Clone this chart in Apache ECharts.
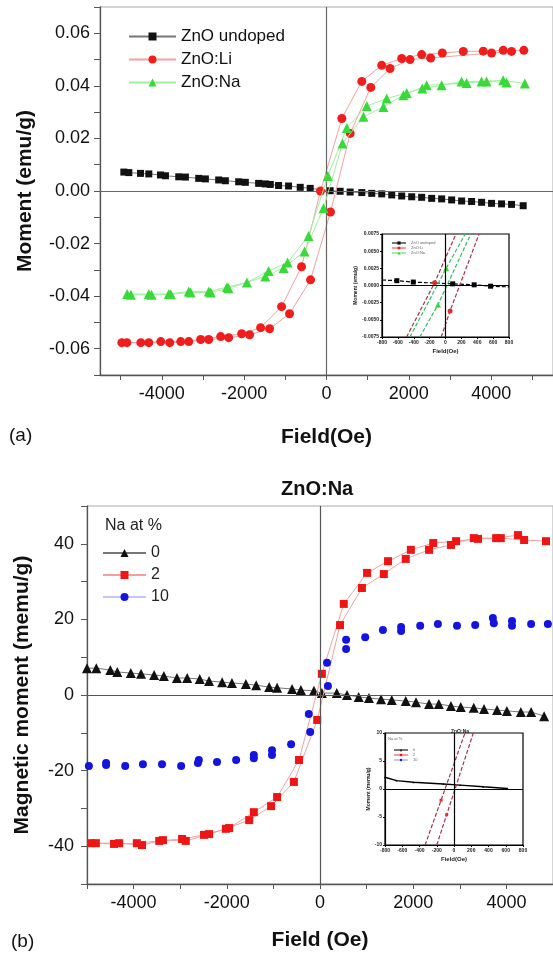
<!DOCTYPE html>
<html>
<head>
<meta charset="utf-8">
<script src="https://cdn.jsdelivr.net/npm/echarts@6/dist/echarts.min.js"></script>
<style>
html,body{margin:0;padding:0;background:#fff;}
#chart{width:553px;height:954px;}
</style>
</head>
<body>
<div id="chart"></div>
<script>
// ---------- Panel (a): ZnO undoped / ZnO:Li / ZnO:Na ----------
const fieldTicksA = [-5000,-4000,-3000,-2000,-1000,0,1000,2000,3000,4000,5000];
const fieldLabelsA = [-4000,-2000,0,2000,4000];
const momentTicksA = [-0.07,-0.06,-0.05,-0.04,-0.03,-0.02,-0.01,0,0.01,0.02,0.03,0.04,0.05,0.06,0.07];
const momentLabelsA = [-0.06,-0.04,-0.02,0,0.02,0.04,0.06];

const undoped = [[-4921,0.0072],[-4800,0.0070],[-4517,0.0067],[-4315,0.0065],[-4032,0.0061],[-3911,0.0058],[-3588,0.0054],[-3426,0.0053],[-3103,0.0048],[-2941,0.0046],[-2618,0.0042],[-2456,0.0039],[-2133,0.0035],[-1971,0.0033],[-1648,0.0029],[-1486,0.0027],[-1365,0.0025],[-1164,0.0021],[-921,0.0019],[-638,0.0014],[-396,0.0010],[89,0.0001],[331,-0.0001],[574,-0.0004],[857,-0.0006],[1099,-0.0009],[1341,-0.0011],[1584,-0.0015],[1826,-0.0019],[2069,-0.0022],[2311,-0.0024],[2554,-0.0028],[2796,-0.0030],[3039,-0.0034],[3281,-0.0038],[3523,-0.0040],[3766,-0.0043],[4008,-0.0047],[4251,-0.0049],[4493,-0.0051],[4776,-0.0056]];

const liDescending = [[4792,0.0535],[4291,0.0535],[3806,0.0532],[3321,0.0531],[2812,0.0525],[2311,0.0519],[1826,0.0504],[1341,0.0478],[857,0.0417],[372,0.0276],[-145,0.0000],[-606,-0.0288],[-1091,-0.0440],[-1600,-0.0520],[-2060,-0.0543],[-2570,-0.0554],[-3055,-0.0565],[-3540,-0.0573],[-4024,-0.0573],[-4509,-0.0577],[-4970,-0.0577]];
const liAscending = [[-4848,-0.0577],[-4315,-0.0577],[-3806,-0.0577],[-3345,-0.0573],[-2860,-0.0565],[-2376,-0.0558],[-1867,-0.0547],[-1382,-0.0524],[-897,-0.0467],[-388,-0.0338],[97,-0.0080],[575,0.0219],[1075,0.0394],[1543,0.0466],[2028,0.0500],[2529,0.0506],[4008,0.0525],[4493,0.0531]];

const naDescending = [[4816,0.0409],[4291,0.0421],[3766,0.0417],[3280,0.0417],[2796,0.0402],[2327,0.0390],[1947,0.0373],[1462,0.0352],[977,0.0323],[493,0.0240],[32,0.0057],[-436,-0.0171],[-945,-0.0272],[-1406,-0.0304],[-1932,-0.0348],[-2417,-0.0366],[-2860,-0.0382],[-3345,-0.0382],[-3830,-0.0392],[-4315,-0.0392],[-4840,-0.0392]];
const naAscending = [[-4750,-0.0395],[-4250,-0.0395],[-3780,-0.0393],[-3300,-0.0386],[-2810,-0.0386],[-2380,-0.0370],[-1486,-0.0325],[-1042,-0.0293],[-533,-0.0230],[-73,-0.0066],[388,0.0181],[897,0.0282],[1382,0.0320],[1867,0.0364],[2432,0.0402],[3402,0.0411],[3887,0.0417],[4372,0.0413]];

// inset (a)
const insetFieldA = [-800,-600,-400,-200,0,200,400,600,800];
const insetMomentA = [-0.0075,-0.005,-0.0025,0,0.0025,0.005,0.0075];
const insetUndoped = [[-800,0.0008],[-613,0.0007],[-406,0.0005],[91,0.00024],[361,0.0001],[568,-0.0001],[800,-0.0002]];
const insetLiDown = [[-490,-0.0075],[-137,0.0004],[133,0.0075]];
const insetLiUp = [[-54,-0.0075],[58,-0.0037],[423,0.0075]];
const insetNaDown = [[-448,-0.0075],[8,0.0025],[249,0.0075]];
const insetNaUp = [[-323,-0.0075],[-95,-0.0028],[319,0.0075]];

// ---------- Panel (b): ZnO:Na, Na at % ----------
const fieldTicksB = [-5000,-4000,-3000,-2000,-1000,0,1000,2000,3000,4000,5000];
const fieldLabelsB = [-4000,-2000,0,2000,4000];
const momentTicksB = [-50,-40,-30,-20,-10,0,10,20,30,40,50];
const momentLabelsB = [-40,-20,0,20,40];

const na0 = [[-5000,7.1],[-4800,7.1],[-4500,6.6],[-4350,6.1],[-4060,5.8],[-3840,5.6],[-3560,5.3],[-3350,5.0],[-3070,4.5],[-2850,4.5],[-2580,4.2],[-2380,3.7],[-2100,3.4],[-1890,3.2],[-1590,2.9],[-1370,2.6],[-1090,2.1],[-920,1.9],[-600,1.6],[-410,1.3],[-130,1.1],[40,0.5],[360,0.5],[580,0.0],[830,-0.5],[1050,-0.8],[1310,-1.1],[1540,-1.3],[1840,-1.6],[2060,-1.9],[2340,-2.4],[2550,-2.4],[2810,-2.9],[3020,-3.2],[3300,-3.4],[3520,-3.7],[3800,-4.0],[4010,-4.2],[4310,-4.5],[4530,-4.5],[4810,-5.6]];
const na2Descending = [[4850,40.7],[4380,41.0],[3880,41.5],[3390,41.3],[2920,40.7],[2430,40.2],[1950,38.4],[1460,35.4],[1010,32.3],[510,24.1],[40,5.6],[-450,-17.2],[-920,-27.0],[-1420,-31.0],[-1950,-35.2],[-2490,-37.0],[-2960,-38.1],[-3450,-38.6],[-3930,-39.2],[-4420,-39.4],[-4910,-39.2]];
const na2Ascending = [[-4810,-39.2],[-4310,-39.2],[-3820,-39.7],[-3370,-38.4],[-2880,-38.6],[-2380,-36.8],[-2020,-35.4],[-1520,-33.1],[-1050,-29.4],[-560,-23.0],[-60,-6.6],[430,18.5],[900,28.3],[1370,32.0],[1840,36.0],[2340,38.4],[2810,39.7],[3300,41.5],[3780,41.5],[4250,42.3]];
const na10Descending = [[4890,18.8],[4530,18.8],[4120,19.6],[3710,20.4],[3330,18.5],[2940,18.3],[2530,18.8],[2150,18.3],[1740,18.0],[1350,17.2],[970,15.3],[560,14.6],[150,8.5],[-240,-5.0],[-620,-13.0],[-1030,-14.6],[-1420,-15.9],[-1800,-17.2],[-2210,-17.7],[-2600,-17.2],[-2980,-18.8],[-3390,-18.3],[-3800,-18.3],[-4180,-18.8],[-4590,-18.0],[-4960,-18.8]];
const na10Ascending = [[-4590,-18.5],[-2620,-18.0],[-1420,-16.7],[-1030,-15.9],[-210,-9.8],[170,2.4],[560,12.2],[1740,16.9],[3730,19.0],[4120,18.3]];

// inset (b)
const insetFieldB = [-800,-600,-400,-200,0,200,400,600,800];
const insetMomentB = [-10,-5,0,5,10];
const insetNa0 = [[-800,2.1],[-666,1.5],[-470,1.2],[-123,0.9],[70,0.7],[340,0.4],[620,0.1]];
const insetNa2Down = [[-335,-10],[-150,-2.0],[127,10]];
const insetNa2Up = [[-200,-10],[-85,-4.6],[224,10]];

// ---------- chart ----------
const FONT = "'Liberation Sans', Arial, sans-serif";
const chart = echarts.init(document.getElementById('chart'), null, {renderer:'canvas'});
const plain = v => String(Math.round(v));

function zeroLines(color, width){
  return {silent:true, symbol:['none','none'], animation:false, label:{show:false},
    lineStyle:{type:'solid', color:color, width:width},
    data:[{xAxis:0},{yAxis:0}]};
}
function mainX(gridIndex, min, max, ticks, labels, name, gap){
  return {type:'value', gridIndex, min, max, name, nameLocation:'middle', nameGap:gap,
    nameTextStyle:{fontFamily:FONT, fontSize:21, fontWeight:'bold', color:'#111'},
    axisLine:{onZero:false, lineStyle:{color:'#555', width:1.3}},
    axisTick:{customValues:ticks, length:5, lineStyle:{color:'#555'}},
    axisLabel:{customValues:labels, margin:10, fontFamily:FONT, fontSize:18, color:'#111', formatter:plain},
    splitLine:{show:false}};
}
function mainY(gridIndex, min, max, ticks, labels, name, gap, fmt, margin){
  return {type:'value', gridIndex, min, max, name, nameLocation:'middle', nameGap:gap,
    nameTextStyle:{fontFamily:FONT, fontSize:21, fontWeight:'bold', color:'#111'},
    axisLine:{onZero:false, show:true, lineStyle:{color:'#555', width:1.3}},
    axisTick:{show:true, customValues:ticks, length:6, lineStyle:{color:'#555'}},
    axisLabel:{customValues:labels, margin:margin, fontFamily:FONT, fontSize:18, color:'#111', formatter:fmt},
    splitLine:{show:false}};
}
function insetX(gridIndex, ticks, name){
  return {type:'value', gridIndex, min:-800, max:800, name, nameLocation:'middle', nameGap:11,
    nameTextStyle:{fontFamily:FONT, fontSize:6, fontWeight:'bold', color:'#222'},
    axisLine:{onZero:false, lineStyle:{color:'#000', width:1.2}},
    axisTick:{customValues:ticks, length:2, lineStyle:{color:'#000'}},
    axisLabel:{customValues:ticks, margin:3, fontFamily:FONT, fontSize:5, fontWeight:'bold', color:'#222', formatter:plain},
    splitLine:{show:false}};
}
function insetY(gridIndex, min, max, ticks, name, gap, fmt){
  return {type:'value', gridIndex, min, max, name, nameLocation:'middle', nameGap:gap,
    nameTextStyle:{fontFamily:FONT, fontSize:5, fontWeight:'bold', color:'#222'},
    axisLine:{onZero:false, show:true, lineStyle:{color:'#000', width:1.2}},
    axisTick:{show:true, customValues:ticks, length:2, lineStyle:{color:'#000'}},
    axisLabel:{customValues:ticks, margin:3, fontFamily:FONT, fontSize:5, fontWeight:'bold', color:'#222', formatter:fmt},
    splitLine:{show:false}};
}
const lastIdx = (arr) => arr.length - 1;
const innerSymbol = (arr, size) => (v, p) => (p.dataIndex === 0 || p.dataIndex === lastIdx(arr)) ? 0 : size;

const option = {
  animation:false,
  backgroundColor:'#fff',
  textStyle:{fontFamily:FONT},
  title:[
    {text:'ZnO:Na', left:276, top:474, textStyle:{fontFamily:FONT, fontSize:20, fontWeight:'bold', color:'#111'}},
    {text:'ZnO:Na', left:446, top:724, textStyle:{fontFamily:FONT, fontSize:5, fontWeight:'bold', color:'#222'}}
  ],
  graphic:[
    {type:'text', left:9, top:426, style:{text:'(a)', font:"19px 'Liberation Sans', Arial", fill:'#111'}},
    {type:'text', left:11, top:932, style:{text:'(b)', font:"19px 'Liberation Sans', Arial", fill:'#111'}},
    {type:'text', left:105, top:518, style:{text:'Na at %', font:"16px 'Liberation Sans', Arial", fill:'#222'}},
    {type:'text', left:388, top:737, style:{text:'Na at %', font:"4px 'Liberation Sans', Arial", fill:'#666'}}
  ],
  legend:[
    {data:['ZnO undoped','ZnO:Li','ZnO:Na'], orient:'vertical', left:123, top:23, itemWidth:47, itemHeight:10, itemGap:6,
      textStyle:{fontFamily:FONT, fontSize:17, color:'#111'}},
    {data:['0','2',{name:'10', lineStyle:{opacity:1, color:'#8a8aff', width:1}}], orient:'vertical', left:97, top:540, itemWidth:43, itemHeight:10, itemGap:6,
      textStyle:{fontFamily:FONT, fontSize:16, color:'#222'}},
    {data:['ZnO undoped','ZnO:Li','ZnO:Na'], orient:'vertical', left:386, top:236, itemWidth:14, itemHeight:4, itemGap:1,
      textStyle:{fontFamily:FONT, fontSize:4, color:'#666'}},
    {data:['0','2',{name:'10', lineStyle:{opacity:1, color:'#8a8aff', width:1}}], orient:'vertical', left:388, top:743, itemWidth:14, itemHeight:3, itemGap:1,
      textStyle:{fontFamily:FONT, fontSize:4, color:'#666'}}
  ],
  grid:[
    {left:100, top:7, width:456, height:368, show:true, borderColor:'#aaa', borderWidth:1},
    {left:87, top:506, width:467, height:378, show:true, borderColor:'#aaa', borderWidth:1},
    {left:382, top:234, width:127, height:103, show:true, borderColor:'#000', borderWidth:1.2},
    {left:385, top:733, width:138, height:112, show:true, borderColor:'#000', borderWidth:1.2}
  ],
  xAxis:[
    mainX(0, -5500, 5500, fieldTicksA, fieldLabelsA, 'Field(Oe)', 52),
    mainX(1, -5000, 5000, fieldTicksB, fieldLabelsB, 'Field (Oe)', 46),
    insetX(2, insetFieldA, 'Field(Oe)'),
    insetX(3, insetFieldB, 'Field(Oe)')
  ],
  yAxis:[
    mainY(0, -0.07, 0.07, momentTicksA, momentLabelsA, 'Moment (emu/g)', 64, v => v.toFixed(2), 10),
    mainY(1, -50, 50, momentTicksB, momentLabelsB, 'Magnetic moment (memu/g)', 54, plain, 13),
    insetY(2, -0.0075, 0.0075, insetMomentA, 'Moment (emu/g)', 22, v => v.toFixed(4)),
    insetY(3, -10, 10, insetMomentB, 'Moment (memu/g)', 12, plain)
  ],
  series:[
    // panel (a)
    {name:'ZnO undoped', type:'line', xAxisIndex:0, yAxisIndex:0, data:undoped, symbol:'rect', symbolSize:7,
      itemStyle:{color:'#111'}, lineStyle:{color:'#777', width:1}, z:3,
      markLine:zeroLines('#666', 1.2)},
    {name:'ZnO:Li', type:'line', xAxisIndex:0, yAxisIndex:0, data:liDescending.concat(liAscending), symbol:'circle', symbolSize:9,
      itemStyle:{color:'#f01d1d'}, lineStyle:{color:'#f4a0a0', width:1}, z:4},
    {name:'ZnO:Na', type:'line', xAxisIndex:0, yAxisIndex:0, data:naDescending.concat(naAscending), symbol:'triangle', symbolSize:10,
      itemStyle:{color:'#3ad93a'}, lineStyle:{color:'#9ff09f', width:1}, z:5},
    // panel (b)
    {name:'0', type:'line', xAxisIndex:1, yAxisIndex:1, data:na0, symbol:'triangle', symbolSize:10,
      itemStyle:{color:'#111'}, lineStyle:{color:'#777', width:1}, z:3,
      markLine:zeroLines('#555', 1.2)},
    {name:'2', type:'line', xAxisIndex:1, yAxisIndex:1, data:na2Descending.concat(na2Ascending), symbol:'rect', symbolSize:8,
      itemStyle:{color:'#ee1515'}, lineStyle:{color:'#f3a0a0', width:1}, z:4},
    {name:'10', type:'line', xAxisIndex:1, yAxisIndex:1, data:na10Descending.concat(na10Ascending), symbol:'circle', symbolSize:8,
      itemStyle:{color:'#1414dd'}, lineStyle:{color:'#8a8aff', width:1, opacity:0}, z:5},
    // inset (a)
    {name:'ZnO undoped', type:'line', xAxisIndex:2, yAxisIndex:2, data:insetUndoped, symbol:'rect', symbolSize:innerSymbol(insetUndoped,5),
      itemStyle:{color:'#000'}, lineStyle:{color:'#000', width:1.2, type:[4,2]},
      markLine:zeroLines('#000', 1.2)},
    {name:'ZnO:Li', type:'line', xAxisIndex:2, yAxisIndex:2, data:insetLiDown, symbol:'circle', symbolSize:innerSymbol(insetLiDown,5),
      itemStyle:{color:'#d93030'}, lineStyle:{color:'#a8324a', width:1.2, type:[4,2]}},
    {name:'ZnO:Li', type:'line', xAxisIndex:2, yAxisIndex:2, data:insetLiUp, symbol:'circle', symbolSize:innerSymbol(insetLiUp,5),
      itemStyle:{color:'#d93030'}, lineStyle:{color:'#a8324a', width:1.2, type:[4,2]}},
    {name:'ZnO:Na', type:'line', xAxisIndex:2, yAxisIndex:2, data:insetNaDown, symbol:'triangle', symbolSize:innerSymbol(insetNaDown,6),
      itemStyle:{color:'#3ad93a'}, lineStyle:{color:'#2fbf5f', width:1.2, type:[4,2]}},
    {name:'ZnO:Na', type:'line', xAxisIndex:2, yAxisIndex:2, data:insetNaUp, symbol:'triangle', symbolSize:innerSymbol(insetNaUp,6),
      itemStyle:{color:'#3ad93a'}, lineStyle:{color:'#2fbf5f', width:1.2, type:[4,2]}},
    // inset (b)
    {name:'0', type:'line', xAxisIndex:3, yAxisIndex:3, data:insetNa0, symbol:'triangle', symbolSize:2,
      itemStyle:{color:'#000'}, lineStyle:{color:'#000', width:1.4},
      markLine:zeroLines('#000', 1.2)},
    {name:'2', type:'line', xAxisIndex:3, yAxisIndex:3, data:insetNa2Down, symbol:'rect', symbolSize:innerSymbol(insetNa2Down,3),
      itemStyle:{color:'#d93030'}, lineStyle:{color:'#a8324a', width:1.2, type:[4,2]}},
    {name:'2', type:'line', xAxisIndex:3, yAxisIndex:3, data:insetNa2Up, symbol:'rect', symbolSize:innerSymbol(insetNa2Up,3),
      itemStyle:{color:'#d93030'}, lineStyle:{color:'#a8324a', width:1.2, type:[4,2]}}
  ]
};
chart.setOption(option);
</script>
</body>
</html>
